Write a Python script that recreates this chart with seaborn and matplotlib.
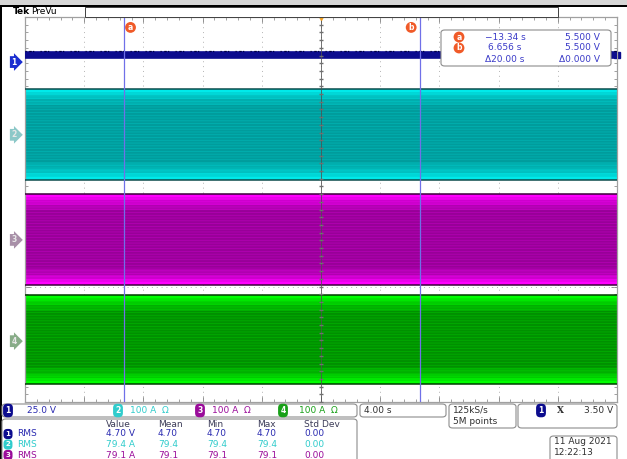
import numpy as np
import pandas as pd
import matplotlib.pyplot as plt
import matplotlib.patches as mpatches
import seaborn as sns

# Scope settings and readings
time_per_div = 4.00
time_window = [-20.0, 20.0]
channels = ["1", "2", "3", "4"]
channel_scale = [25.0, 100.0, 100.0, 100.0]
channel_units = ["V", "A", "A", "A"]
channel_offset = [3.83, 1.94, -0.79, -3.42]
channel_rms = [4.70, 79.4, 79.1, 79.1]
# envelope of the ac current traces (peak high / peak low, in A)
env_high = [None, 119.5, 119.0, 121.0]
env_low = [None, -117.0, -117.0, -112.0]

cursor_a = -13.34
cursor_b = 6.656
cursor_volts = [5.500, 5.500]
trigger_level = 3.50
sample_rate = "125kS/s"
record_len = "5M points"
meas_cols = ["Value", "Mean", "Min", "Max", "Std Dev"]
meas_rows = ["1", "2", "3"]
meas_std = [0.00, 0.00, 0.00]
stamp = ["11 Aug 2021", "12:22:13"]

# colours
navy = "#0c0c8e"
txt_col = ["#2a2ab0", "#30cccc", "#9a0c9a", "#18a018"]
marker_col = ["#1a2ed0", "#8cc8c8", "#a890a8", "#88ac88"]
band_col = [None,
            ["#00eaea", "#00d6d6", "#00c0c0", "#00aeae", "#009c9c"],
            ["#ff00ff", "#ea00ea", "#cc00cc", "#b000b0", "#980098"],
            ["#00ff00", "#00e600", "#00cc00", "#00ae00", "#009000"]]
band_frac = [1.0, 0.93, 0.86, 0.77, 0.64]
edge_col = [None, "#0c4c4c", "#3a003a", "#003c00"]
cursor_col = "#7070e8"
orange = "#f05a28"

sns.set_theme(style="white")
plt.rcParams['font.family'] = ['DejaVu Sans']
plt.rcParams['hatch.linewidth'] = 0.5

W, H = 627, 459
fig = plt.figure(figsize=(6.27, 4.59), dpi=100)


def fx(x):
    return x / W


def fy(y):
    return 1 - y / H


def put(x, y, s, color="#303060", size=6.5, **kw):
    fig.text(fx(x), fy(y), s, color=color, fontsize=size, va="center", **kw)


def chip(x, y, s, color, size=5.5):
    fig.text(fx(x), fy(y), s, color="white", fontsize=size, fontweight="bold",
             ha="center", va="center",
             bbox=dict(boxstyle="round,pad=0.3,rounding_size=0.55",
                       fc=color, ec="none"))


def rbox(x0, y0, x1, y1):
    fig.patches.append(mpatches.FancyBboxPatch(
        (fx(x0), fy(y1)), fx(x1 - x0), (y1 - y0) / H,
        boxstyle="round,pad=0,rounding_size=0.006", transform=fig.transFigure,
        fc="white", ec="#8c8c8c", lw=0.8))


# top strip
fig.patches.append(mpatches.Rectangle((0, fy(5)), 1, 5 / H, transform=fig.transFigure,
                                      fc="#d6d6d6", ec="none"))
fig.patches.append(mpatches.Rectangle((0, fy(7)), 1, 2 / H, transform=fig.transFigure,
                                      fc="black", ec="none"))
fig.patches.append(mpatches.Rectangle((0, 0), 1.5 / W, fy(7), transform=fig.transFigure,
                                      fc="black", ec="none"))
put(13, 12, "Tek", color="black", size=6.5, fontweight="bold")
put(31, 12, "PreVu", color="black", size=6.5)

# record preview
fig.patches.append(mpatches.Rectangle((fx(85), fy(17)), fx(558 - 85), 10 / H,
                                      transform=fig.transFigure, fc="white", ec="#404040", lw=0.7))
pv = fig.add_axes([fx(181), fy(17), fx(464 - 181), 10 / H])
pv.set_xlim(time_window)
pv.set_ylim(0, 1)
pv.axhline(0.55, color=cursor_col, lw=0.9)
for c in [cursor_a, cursor_b]:
    pv.axvline(c, ymin=0.1, ymax=0.9, color="#3030a0", lw=0.9)
pv.plot([-16.1], [0.45], marker="s", ms=3.5, mfc="#f0b030", mec="#c08020", mew=0.5)
pv.set_xticks([])
pv.set_yticks([])
for s in pv.spines.values():
    s.set_color("#202020")
    s.set_linewidth(0.8)
pv.spines["top"].set_linewidth(1.6)

# main graticule
ax = fig.add_axes([fx(25), fy(402), fx(617 - 25), 385 / H])
ax.set_xlim(time_window)
ax.set_ylim(-5, 5)

t = np.array(time_window)
for i, ch in enumerate(channels):
    if i == 0:
        lvl = channel_offset[0] + channel_rms[0] / channel_scale[0]
        df1 = pd.DataFrame({"time": t, "div": [lvl, lvl]})
        sns.lineplot(data=df1, x="time", y="div", ax=ax, color=navy, lw=5.5, zorder=3)
        ax.plot(t, [lvl + 0.09] * 2, color="#000040", lw=0.9,
                ls=(0, (1, 2, 2, 1, 1, 5)), zorder=3)
        continue
    hi = channel_offset[i] + env_high[i] / channel_scale[i]
    lo = channel_offset[i] + env_low[i] / channel_scale[i]
    mid = (hi + lo) / 2
    half = (hi - lo) / 2
    for frac, col in zip(band_frac, band_col[i]):
        ax.fill_between(t, mid - half * frac, mid + half * frac, color=col, lw=0,
                        zorder=2)
    ax.fill_between(t, mid - half * 0.93, mid + half * 0.93, facecolor="none",
                    edgecolor=band_col[i][0], hatch="------", lw=0, alpha=0.3,
                    zorder=2)
    edge_df = pd.DataFrame({"time": np.r_[t, t], "div": [hi, hi, lo, lo],
                            "side": ["hi", "hi", "lo", "lo"]})
    sns.lineplot(data=edge_df, x="time", y="div", units="side", estimator=None,
                 ax=ax, color=edge_col[i], lw=1.1, zorder=3)

# grid
for v in np.arange(-5, 6):
    ax.axhline(v, color="#b4b4b4", lw=0.7, ls=(0, (1, 4)), zorder=1)
for v in np.arange(-20, 21, 4):
    ax.axvline(v, color="#b4b4b4", lw=0.7, ls=(0, (1, 4)), zorder=1)
ax.axvline(0, color="#505050", lw=0.7, zorder=4, alpha=0.8)
ax.axhline(0, color="#909090", lw=0.6, zorder=1)
ax.plot(np.arange(-20, 20.1, 0.8), np.zeros(51), "|", color="#808080", ms=3, zorder=1)
ax.plot(np.zeros(51), np.arange(-5, 5.01, 0.2), "_", color="#707070", ms=3, zorder=4)
ax.set_xticks(np.arange(-20, 21, 4))
ax.set_yticks(np.arange(-5, 6))
ax.set_xticks(np.arange(-20, 20.1, 0.8), minor=True)
ax.set_yticks(np.arange(-5, 5.01, 0.2), minor=True)
ax.tick_params(which="both", direction="in", top=True, right=True, bottom=True, left=True,
               color="#909090", labelbottom=False, labelleft=False)
ax.tick_params(which="major", length=4, width=0.7)
ax.tick_params(which="minor", length=2, width=0.6)
for s in ax.spines.values():
    s.set_color("#a0a0a0")
    s.set_linewidth(0.9)
ax.set_xlabel("")
ax.set_ylabel("")

# cursors
for c, lab, dx in [(cursor_a, "a", 5), (cursor_b, "b", -6)]:
    ax.axvline(c, color=cursor_col, lw=0.9, zorder=5)
    ax.annotate(lab, xy=(c, 1), xycoords=("data", "axes fraction"),
                xytext=(dx, -7.5), textcoords="offset points", ha="center", va="center",
                color="white", fontsize=5.5, fontweight="bold",
                bbox=dict(boxstyle="circle,pad=0.12", fc=orange, ec="none"))
ax.plot([0], [5], marker="v", ms=5, color="#f0a020", clip_on=False, zorder=6)

# channel ground markers
for i, ch in enumerate(channels):
    ax.annotate(ch, xy=(0, channel_offset[i]), xycoords=("axes fraction", "data"),
                xytext=(-8, 0), textcoords="offset points", ha="center", va="center",
                color="white" if i == 0 else "#e8e8e8", fontsize=5.5, fontweight="bold",
                bbox=dict(boxstyle="rarrow,pad=0.18", fc=marker_col[i], ec="none"))
ax.plot([1], [channel_offset[0] + channel_rms[0] / channel_scale[0]], marker="s",
        ms=4, color=navy, transform=ax.get_yaxis_transform(), clip_on=False)

# cursor readout box
rbox(441, 30, 611, 66)
blue_txt = "#3a3ac8"
for k, (lab, tv) in enumerate([("a", cursor_a), ("b", cursor_b)]):
    yy = 37 + k * 11
    fig.text(fx(459), fy(yy), lab, color="white", fontsize=5.5, fontweight="bold",
             ha="center", va="center",
             bbox=dict(boxstyle="circle,pad=0.12", fc=orange, ec="none"))
    put(505, yy, f"{tv:.4g} s".replace("-", "\u2212"), color=blue_txt, ha="center")
    put(600, yy, f"{cursor_volts[k]:.3f} V", color=blue_txt, ha="right")
put(505, 59, f"\u0394{cursor_b - cursor_a:.2f} s", color=blue_txt, ha="center")
put(600, 59, f"\u0394{cursor_volts[1] - cursor_volts[0]:.3f} V", color=blue_txt, ha="right")

# status row
rbox(2, 404, 357, 417)
chip_x = [8, 118, 200, 283]
lab_x = [27, 130, 212, 299]
for i, ch in enumerate(channels):
    chip(chip_x[i], 410.5, ch, txt_col[i] if i else navy)
    unit = f"{channel_scale[i]:.1f} {channel_units[i]}" if i == 0 else \
        f"{channel_scale[i]:.0f} {channel_units[i]}  \u03a9"
    put(lab_x[i], 410.5, unit, color=txt_col[i])
rbox(360, 404, 446, 417)
put(364, 410.5, f"{time_per_div:.2f} s", color="#303030")
rbox(449, 404, 516, 428)
put(453, 410, sample_rate, color="#303030")
put(453, 421, record_len, color="#303030")
rbox(518, 404, 617, 428)
chip(541, 410.5, "1", navy)
put(557, 410.5, "X", color="#303030", family="DejaVu Serif", fontweight="bold")
put(613, 410.5, f"{trigger_level:.2f} V", color="#303030", ha="right")

# measurement table
rbox(2, 419, 357, 470)
col_x = [106, 158, 207, 257, 304]
for cx, name in zip(col_x, meas_cols):
    put(cx, 424.5, name, color="#3c3c58")
for r, ch in enumerate(meas_rows):
    yy = 434 + r * 10.5
    i = channels.index(ch)
    chip(8, yy, ch, txt_col[i] if i else navy, size=5)
    put(17, yy, "RMS", color=txt_col[i])
    vals = [f"{channel_rms[i]:.2f} {channel_units[i]}" if i == 0 else
            f"{channel_rms[i]:.1f} {channel_units[i]}"]
    fmt = "{:.2f}" if i == 0 else "{:.1f}"
    vals += [fmt.format(channel_rms[i])] * 3 + [f"{meas_std[r]:.2f}"]
    for cx, v in zip(col_x, vals):
        put(cx, yy, v, color=txt_col[i])

rbox(550, 436, 617, 470)
put(554, 442, stamp[0], color="#303030")
put(554, 452.5, stamp[1], color="#303030")

fig.savefig("out.png", dpi=100)
